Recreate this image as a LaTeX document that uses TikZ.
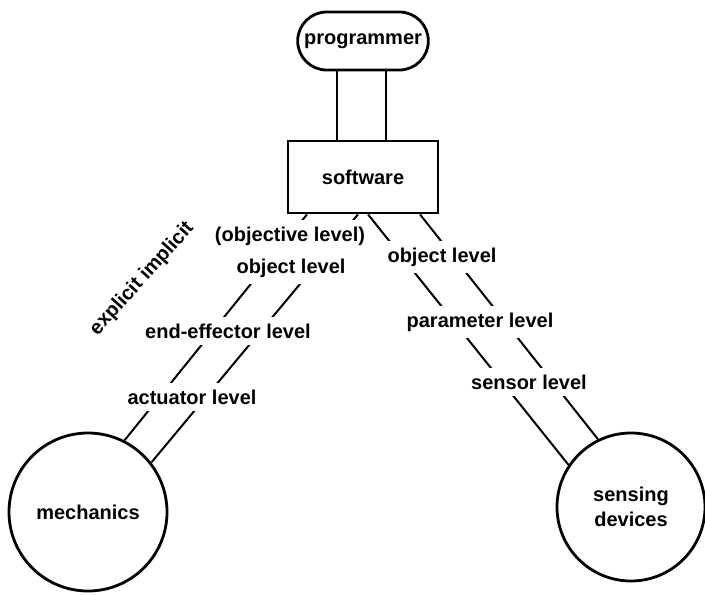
\documentclass[tikz,border=0pt]{standalone}
\usepackage{fontspec}
\setmainfont{Liberation Sans}
\usetikzlibrary{shapes.misc}

\begin{document}
\begin{tikzpicture}[x=0.5pt, y=-0.5pt,
    every node/.style={font=\fontsize{10}{12.5}\selectfont\bfseries},
    pill/.style={draw, rounded rectangle, line width=1.4pt, minimum width=72pt, minimum height=29pt},
    box/.style={draw, line width=1.4pt, minimum width=75pt, minimum height=36pt},
    unit/.style={draw, circle, line width=1.4pt, align=center, inner sep=0pt},
    level/.style={fill=white, inner xsep=1pt, inner ysep=3.5pt},
    link/.style={line width=1pt}]
    \useasboundingbox (0,0) rectangle (705,594);

    % Programmer, software and the two ends
    \node[pill] (programmer) at (363,41) {programmer};
    \node[box] (software) at (363,177) {software};
    \node[unit, minimum size=79pt] (mechanics) at (88,512) {mechanics};
    \node[unit, minimum size=74pt] (sensing) at (631,507) {sensing\\devices};

    % Programmer to software
    \draw[link] ([xshift=-13pt]programmer.south) -- ([xshift=-13pt]software.north);
    \draw[link] ([xshift=11.5pt]programmer.south) -- ([xshift=11.5pt]software.north);

    % Software to mechanics and sensing devices
    \draw[link] ([xshift=-28pt]software.south) -- (mechanics.63);
    \draw[link] ([xshift=-2.5pt]software.south) -- (mechanics.38);
    \draw[link] ([xshift=2.5pt]software.south) -- (sensing.146);
    \draw[link] ([xshift=28.5pt]software.south) -- (sensing.116);

    % Levels on the mechanics side
    \node[level] (objective) at (290,236) {(objective level)};
    \node[level] (objectL) at (291,268) {object level};
    \node[level] (effector) at (228,331) {end-effector level};
    \node[level] (actuator) at (192,397) {actuator level};

    % Levels on the sensing side
    \node[level] (objectR) at (442,257) {object level};
    \node[level] (parameter) at (480,322) {parameter level};
    \node[level] (sensor) at (529,382) {sensor level};

    \node[rotate=48] (approach) at (142,279) {explicit implicit};
\end{tikzpicture}
\end{document}
